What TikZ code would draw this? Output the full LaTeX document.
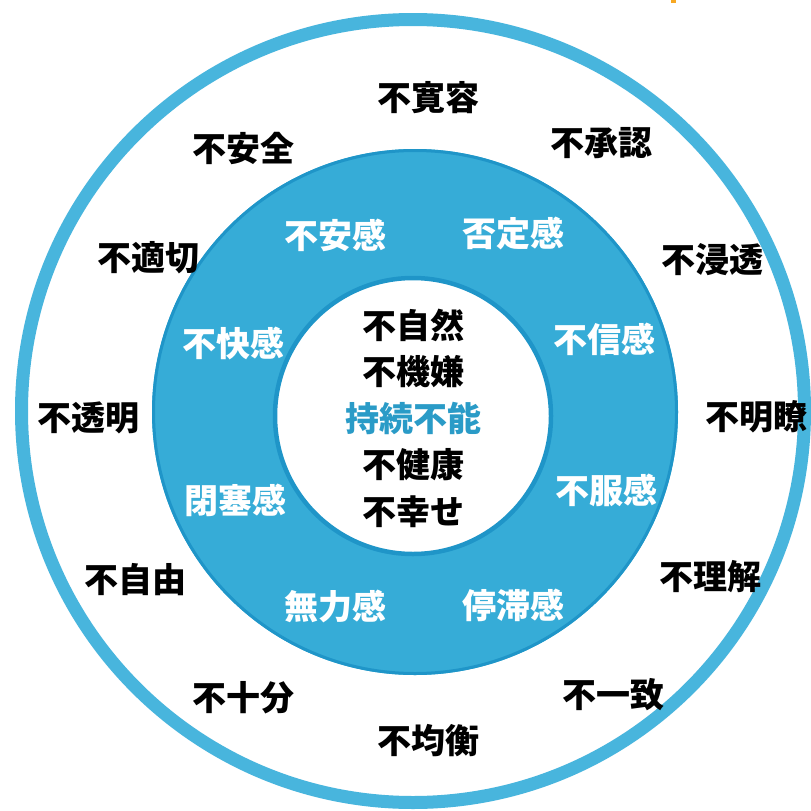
\documentclass[tikz,border=0pt]{standalone}
\usepackage{fontspec}
\setmainfont{Noto Sans CJK JP}
\newfontfamily\jp{Noto Sans CJK JP}
\definecolor{ringblue}{HTML}{48B5DD}
\definecolor{diskblue}{HTML}{36ACD7}
\definecolor{edgeblue}{HTML}{1F95C8}
\definecolor{textblue}{HTML}{2A9BC7}
\definecolor{markorange}{HTML}{F7A823}
\tikzset{
  outerlbl/.style={font=\jp\bfseries\fontsize{34}{36}\selectfont, text=black, inner sep=0pt},
  ringlbl/.style={font=\jp\bfseries\fontsize{34}{36}\selectfont, text=white, inner sep=0pt},
  corelbl/.style={font=\jp\bfseries\fontsize{34}{36}\selectfont, text=black, inner sep=0pt},
  keylbl/.style={font=\jp\bfseries\fontsize{34}{36}\selectfont, text=textblue, inner sep=0pt}
}
\begin{document}
\begin{tikzpicture}[x=1pt,y=-1pt]
\useasboundingbox (0,0) rectangle (811,811);
\clip (0,0) rectangle (811,811);
\fill[white] (0,0) rectangle (811,811);
% outer ring
\draw[ringblue, line width=13pt] (413,411) circle (391.5);
% blue disk
\fill[diskblue] (415,412) circle (263);
\draw[edgeblue, line width=3pt] (415,412) circle (261.5);
% white core
\fill[white, draw=edgeblue, line width=4.5pt] (413,416) circle (138);
% small orange mark at top
\fill[markorange] (671,0) rectangle (676,3);
% outer labels
\node[outerlbl] (o1) at (428,98) {不寛容};
\node[outerlbl] (o2) at (243,148) {不安全};
\node[outerlbl] (o3) at (601,143) {不承認};
\node[outerlbl] (o4) at (148,258) {不適切};
\node[outerlbl] (o5) at (712,260) {不浸透};
\node[outerlbl] (o6) at (88,418) {不透明};
\node[outerlbl] (o7) at (756,417) {不明瞭};
\node[outerlbl] (o8) at (135,580) {不自由};
\node[outerlbl] (o9) at (710,577) {不理解};
\node[outerlbl] (o10) at (243,698) {不十分};
\node[outerlbl] (o11) at (613,695) {不一致};
\node[outerlbl] (o12) at (428,741) {不均衡};
% ring labels
\node[ringlbl] (r1) at (335,235) {不安感};
\node[ringlbl] (r2) at (513,233) {否定感};
\node[ringlbl] (r3) at (233,343) {不快感};
\node[ringlbl] (r4) at (604,339) {不信感};
\node[ringlbl] (r5) at (235,500) {閉塞感};
\node[ringlbl] (r6) at (606,490) {不服感};
\node[ringlbl] (r7) at (335,606) {無力感};
\node[ringlbl] (r8) at (513,605) {停滞感};
% core labels
\node[corelbl] (c1) at (413,325) {不自然};
\node[corelbl] (c2) at (413,372) {不機嫌};
\node[keylbl] (c3) at (413,418) {持続不能};
\node[corelbl] (c4) at (413,465) {不健康};
\node[corelbl] (c5) at (413,512) {不幸せ};
\end{tikzpicture}
\end{document}
